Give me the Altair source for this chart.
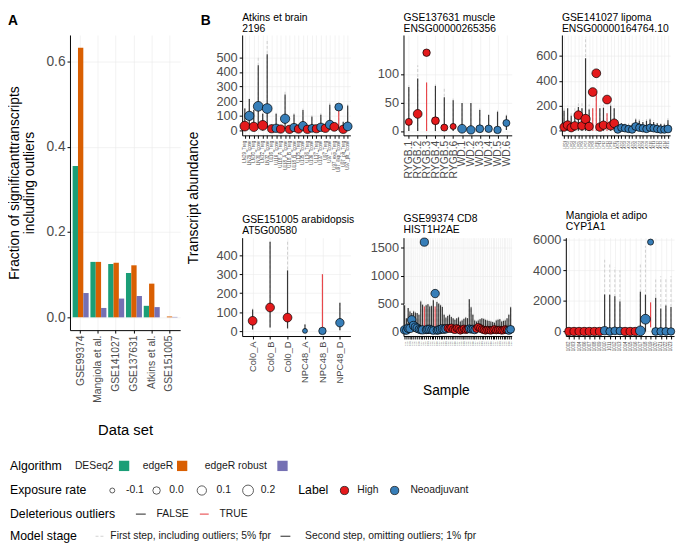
import altair as alt
import pandas as pd

FONT = "Liberation Sans"
LABEL_GRAY = "#4D4D4D"
GRID = "#EBEBEB"

# ---------------- Panel A data ----------------
datasets = ["GSE99374", "Mangiola et al.", "GSE141027", "GSE137631", "Atkins et al.", "GSE151005"]
algorithms = ["DESeq2", "edgeR", "edgeR robust"]
frac_deseq2 = [0.355, 0.130, 0.125, 0.104, 0.027, 0.000]
frac_edger = [0.632, 0.130, 0.128, 0.122, 0.079, 0.002]
frac_robust = [0.057, 0.022, 0.044, 0.050, 0.024, 0.001]
alg_colors = ["#1B9E77", "#D95F02", "#7570B3"]

# ---------------- Panel B data ----------------
# Atkins et brain / 2196
atk_names = ["LN29_Treg", "LN29_Tconv", "LN30_Treg", "LN30_Tconv", "LN32_Treg", "LN32_Tconv",
             "U116_Treg", "U116_Tconv", "U118_A_Treg", "U118_A_Tconv", "U118_B_Treg", "U118_B_Tconv",
             "U135_Treg", "U135_Tconv", "U136_Treg", "U136_Tconv", "U137_Treg", "U137_Tconv",
             "U97_Treg", "U97_Tconv", "U97_exp_Treg", "U97_exp_Tconv", "U97_plt_Treg", "U97_plt_Tconv"]
atk_label = list("HNHNHNHNHNHNHNHNHNHNHNHN")
atk_value = [30, 100, 25, 165, 35, 150, 12, 15, 10, 80, 8, 20, 10, 32, 8, 15, 12, 22, 15, 40, 25, 160, 8, 28]
atk_expo = [0.13, 0.10, 0.10, 0.13, 0.13, 0.13, 0.04, 0.04, 0.04, 0.10, 0.04, 0.04,
            0.04, 0.07, 0.04, 0.02, 0.04, 0.04, 0.04, 0.07, 0.07, 0.02, 0.04, 0.07]
atk_lo = [0, 30, 0, 40, 0, 20, 0, 0, 0, 10, 0, 0, 0, 5, 0, 0, 0, 0, 0, 5, 0, 0, 0, 5]
atk_hi2 = [150, 215, 140, 445, 115, 520, 40, 115, 30, 245, 30, 110, 30, 140, 25, 95, 25, 108, 40, 175, 45, 140, 60, 170]
atk_hi1 = [165, 230, 150, 500, 125, 620, 45, 125, 35, 265, 35, 120, 35, 150, 30, 105, 30, 118, 45, 190, 50, 140, 65, 180]
atk_del = [0, 0, 0, 0, 0, 0, 0, 0, 0, 0, 0, 0, 0, 0, 0, 0, 0, 0, 0, 0, 0, 1, 0, 0]

# GSE137631 muscle / ENSG00000265356
mus_names = ["RYGB.1", "RYGB.2", "RYGB.3", "RYGB.4", "RYGB.5", "RYGB.6", "WD.1", "WD.2", "WD.3", "WD.4", "WD.5", "WD.6"]
mus_label = list("HHHHHHNNNNNN")
mus_value = [16, 30, 137, 18, 6, 8, 4, 2, 4, 4, 2, 14]
mus_expo = [-0.02, 0.07, 0.0, 0.02, -0.02, -0.06, 0.07, 0.05, 0.02, 0.0, 0.0, -0.02]
mus_lo = [0, 0, 0, 0, 0, 0, 0, 0, 0, 0, 0, 2]
mus_hi2 = [77, 92, 85, 79, 59, 54, 49, 49, 37, 28, 34, 27]
mus_hi1 = [80, 115, 85, 82, 77, 60, 52, 52, 40, 30, 36, 29]
mus_del = [0, 0, 1, 0, 0, 0, 0, 0, 0, 0, 0, 0]

# GSE141027 lipoma / ENSG00000164764.10
lip_names = ("LP01 LP02 LP03 LP04 LP05 LP06 LP07 LP08 LP09 LP10 LP11 LP12 LP13 LP14 LP15 "
             "AT01 AT02 AT03 AT04 AT05 AT06 AT07 AT08 AT09 AT10 AT11 AT12 AT13 AT14 AT15").split()
lip_label = list("HHHHHHHHHHHHHHHNNNNNNNNNNNNNNN")
lip_value = [30, 45, 25, 40, 125, 40, 95, 35, 310, 460, 30, 45, 250, 40, 60,
             10, 25, 20, 15, 10, 35, 25, 20, 15, 25, 20, 15, 10, 10, 15]
lip_expo = [0.05, 0.07, 0.05, 0.05, 0.07, 0.05, 0.10, 0.05, 0.07, 0.07, 0.05, 0.05, 0.07, 0.05, 0.07,
            0.0, 0.0, 0.0, 0.0, 0.0, 0.02, 0.0, 0.0, 0.0, 0.0, 0.0, 0.0, 0.0, 0.0, 0.02]
lip_lo = [0, 0, 0, 0, 0, 0, 0, 0, 0, 0, 0, 0, 0, 0, 0,
          0, 0, 0, 0, 0, 0, 0, 0, 0, 0, 0, 0, 0, 0, 0]
lip_hi2 = [160, 180, 120, 140, 190, 180, 580, 170, 180, 300, 180, 185, 140, 200, 180,
           40, 60, 55, 45, 50, 90, 80, 70, 80, 90, 70, 60, 55, 50, 85]
lip_hi1 = [190, 200, 140, 180, 240, 220, 750, 210, 180, 300, 200, 210, 140, 220, 200,
           55, 75, 70, 60, 65, 105, 95, 85, 95, 105, 85, 75, 70, 65, 100]
lip_del = [0, 0, 0, 0, 0, 0, 0, 0, 1, 1, 0, 0, 1, 0, 0,
           0, 0, 0, 0, 0, 0, 0, 0, 0, 0, 0, 0, 0, 0, 0]

# GSE151005 arabidopsis / AT5G00580
ara_names = ["Col0_A", "Col0_B", "Col0_D", "NPC48_A", "NPC48_B", "NPC48_D"]
ara_label = list("HHHNNN")
ara_value = [55, 125, 72, 2, 2, 45]
ara_expo = [0.07, 0.07, 0.07, -0.1, 0.0, 0.05]
ara_lo = [10, 20, 15, 0, 0, 5]
ara_hi2 = [115, 470, 320, 35, 300, 150]
ara_hi1 = [120, 470, 470, 38, 300, 155]
ara_del = [0, 0, 0, 0, 1, 0]

# GSE99374 CD8 / HIST1H2AE
cd8_names = ("C01 C02 C03 C04 C05 C06 C07 C08 C09 C10 C11 C12 C13 C14 C15 C16 C17 C18 C19 C20 "
             "C21 C22 C23 C24 C25 C26 C27 C28 C29 C30 C31 C32 C33 C34 C35 C36 C37 C38 C39 C40 "
             "C41 C42 C43 C44 C45 C46 C47 C48 C49 C50 C51 C52 C53 C54 C55 C56 C57 C58 C59 C60").split()
cd8_label = list("NNNNNNNNNNNNNNNNNNNNNNNN" "HHHHHHHHHHHH" "NNNN" "HHHHHHHHHHHHHHHHHH" "NN")
cd8_value = [30, 20, 60, 55, 210, 110, 80, 60, 40, 30, 30, 1600, 30, 40, 40, 30, 20, 680, 20, 30, 40, 50, 40, 50,
             60, 50, 70, 40, 30, 60, 45, 20, 35, 50, 30, 40,
             50, 40, 45, 30,
             50, 80, 60, 40, 30, 20, 30, 25, 20, 30, 40, 25, 30, 30, 20, 25, 40, 30,
             20, 40]
cd8_expo = [0.04, 0.02, 0.04, 0.04, 0.05, 0.04, 0.04, 0.04, 0.02, 0.02, 0.04, 0.04, 0.02, 0.04, 0.04, 0.02,
            0.02, 0.05, 0.02, 0.04, 0.04, 0.04, 0.04, 0.04,
            0.0, 0.0, 0.0, 0.0, 0.0, 0.0, 0.0, 0.0, 0.0, 0.0, 0.0, 0.0,
            0.02, 0.02, 0.02, 0.02,
            0.0, 0.0, 0.0, 0.0, 0.0, 0.0, 0.0, 0.0, 0.0, 0.0, 0.0, 0.0, 0.0, 0.0, 0.0, 0.0, 0.0, 0.0,
            0.02, 0.02]
cd8_lo = [0, 0, 0, 0, 0, 0, 0, 0, 0, 0, 0, 0, 0, 0, 0, 0, 0, 0, 0, 0, 0, 0, 0, 0,
          0, 0, 0, 0, 0, 0, 0, 0, 0, 0, 0, 0, 0, 0, 0, 0,
          0, 0, 0, 0, 0, 0, 0, 0, 0, 0, 0, 0, 0, 0, 0, 0, 0, 0, 0, 0]
cd8_hi2 = [470, 240, 420, 360, 330, 360, 340, 330, 300, 540, 480, 450, 470, 490, 450, 455, 560, 450, 530, 500,
           470, 440, 300, 250,
           280, 300, 260, 240, 210, 240, 255, 180, 200, 230, 250, 240,
           580, 435, 300, 200,
           180, 200, 220, 240, 230, 210, 200, 190, 180, 170, 160, 200, 210, 220, 180, 190, 200, 240,
           300, 435]
cd8_hi1 = [500, 260, 440, 380, 350, 380, 360, 350, 320, 560, 500, 450, 490, 510, 470, 475, 580, 450, 550, 520,
           490, 460, 320, 270,
           300, 320, 280, 260, 230, 260, 275, 200, 220, 250, 270, 260,
           600, 455, 320, 220,
           200, 220, 240, 260, 250, 230, 220, 210, 200, 190, 180, 220, 230, 240, 200, 210, 220, 260,
           320, 455]
cd8_del = [0, 0, 0, 0, 0, 0, 0, 0, 0, 0, 0, 1, 0, 0, 0, 0, 0, 1, 0, 0, 0, 0, 0, 0,
           0, 0, 0, 0, 0, 0, 0, 0, 0, 0, 0, 0, 0, 0, 0, 0,
           0, 0, 0, 0, 0, 0, 0, 0, 0, 0, 0, 0, 0, 0, 0, 0, 0, 0, 0, 0]

# Mangiola et adipo / CYP1A1
man_names = ["1002", "1003", "1004", "1006", "1007", "1008", "1009", "1010", "1011", "1012", "1013",
             "1014", "1015", "1016", "1017", "1018", "1019", "1020", "1021", "1022", "1023"]
man_label = list("HHHHHHHNNNNHHHNNNNNNN")
man_value = [0, 0, 0, 0, 0, 0, 0, 50, 0, 40, 30, 0, 0, 0, 40, 800, 5840, 0, 0, 0, 0]
man_expo = [0.04, 0.04, 0.04, 0.04, 0.04, 0.04, 0.04, 0.04, 0.02, 0.02, 0.02, 0.04, 0.04, 0.04,
            0.13, 0.13, -0.06, 0.02, 0.02, 0.02, 0.0]
man_lo = [0, 0, 0, 0, 0, 0, 0, 0, 0, 0, 0, 0, 0, 0, 0, 0, 270, 0, 0, 0, 0]
man_hi2 = [30, 30, 30, 30, 30, 30, 30, 2420, 2400, 2300, 1950, 30, 30, 30, 2600, 2400, 1900, 2200, 1500, 1700, 1600]
man_hi1 = [40, 40, 40, 40, 40, 40, 40, 4700, 4500, 4200, 4000, 40, 40, 40, 4400, 5600, 1900, 3400, 3600, 3500, 3600]
man_del = [0, 0, 0, 0, 0, 0, 0, 0, 0, 0, 0, 0, 0, 0, 0, 0, 1, 0, 0, 0, 0]

label_names = ["High", "Neoadjuvant"]
label_colors = ["#E41A1C", "#377EB8"]
del_names = ["FALSE", "TRUE"]
del_colors = ["#363636", "#E8474B"]
expo_levels = [-0.1, 0.0, 0.1, 0.2]

alg_scale = alt.Scale(domain=algorithms, range=alg_colors)
label_scale = alt.Scale(domain=label_names, range=label_colors)
size_scale = alt.Scale(domain=[-0.1, 0.2], range=[25, 121])
del_scale = alt.Scale(domain=del_names, range=del_colors)

TITLE_KW = dict(anchor="start", frame="group", fontSize=10.5, lineHeight=11, offset=1)
LETTER_KW = dict(anchor="start", frame="bounds", fontSize=14, fontWeight="bold", offset=-15)

# ---------------- Panel A ----------------
df_a = pd.DataFrame({
    "dataset": datasets * 3,
    "algorithm": [algorithms[0]] * 6 + [algorithms[1]] * 6 + [algorithms[2]] * 6,
    "frac": frac_deseq2 + frac_edger + frac_robust,
})
bars_a = alt.Chart(df_a).mark_bar().encode(
    x=alt.X("dataset:N", sort=datasets,
            scale=alt.Scale(paddingInner=0.1, paddingOuter=0.15),
            axis=alt.Axis(title="Data set", labelAngle=-90, labelFontSize=10.5, titleFontSize=15,
                          minExtent=78, maxExtent=78, titlePadding=16, grid=True, labelPadding=2)),
    xOffset=alt.XOffset("algorithm:N", sort=algorithms),
    y=alt.Y("frac:Q", scale=alt.Scale(domain=[-0.03, 0.662], nice=False, zero=False),
            axis=alt.Axis(values=[0, 0.2, 0.4, 0.6], format=".1f", labelFontSize=14,
                          title=["Fraction of significanttranscripts", "including outliers"],
                          titleFontSize=14, titleLineHeight=15, minExtent=30, maxExtent=30,
                          titlePadding=4, grid=True)),
    color=alt.Color("algorithm:N", scale=alg_scale, legend=None),
).properties(width=112, height=300, title=alt.TitleParams([" ", " "], **TITLE_KW))
panel_a = alt.vconcat(bars_a).properties(title=alt.TitleParams("A", **LETTER_KW))


# ---------------- Panel B ----------------
def panel_df(names, labels, values, expo, lo, hi2, hi1, dele):
    return pd.DataFrame({
        "sample": names,
        "label": ["High" if l == "H" else "Neoadjuvant" for l in labels],
        "value": values, "exposure": expo, "lo": lo, "hi2": hi2, "hi1": hi1,
        "deleterious": ["TRUE" if d else "FALSE" for d in dele],
    })


def panel(df, names, ydom, yticks, title, xfs, yext, w, h):
    xenc = alt.X("sample:N", sort=names, scale=alt.Scale(type="point", padding=0.6),
                 axis=alt.Axis(title=None, labelAngle=-90, labelFontSize=xfs, labelOverlap=False,
                               grid=True, labelPadding=2))
    ysc = alt.Scale(domain=ydom, nice=False, zero=False)
    yax = alt.Axis(title=None, values=yticks, labelFontSize=13, minExtent=yext, maxExtent=yext,
                   grid=True, format="d")
    base = alt.Chart(df)
    dashed = base.mark_rule(strokeDash=[3, 2], strokeWidth=1.1, color="#D2D2D2").encode(
        x=xenc, y=alt.Y("lo:Q", scale=ysc, axis=yax), y2="hi1:Q")
    solid = base.mark_rule(strokeWidth=1.2).encode(
        x=xenc, y=alt.Y("lo:Q", scale=ysc, axis=yax), y2="hi2:Q",
        stroke=alt.Stroke("deleterious:N", scale=del_scale, legend=None))
    pts = base.mark_circle(stroke="black", strokeWidth=0.7, opacity=1, fillOpacity=1).encode(
        x=xenc, y=alt.Y("value:Q", scale=ysc, axis=yax),
        fill=alt.Fill("label:N", scale=label_scale, legend=None),
        size=alt.Size("exposure:Q", scale=size_scale, legend=None))
    return alt.layer(dashed, solid, pts).properties(
        width=w, height=h, title=alt.TitleParams(title, **TITLE_KW))


W = 110
p1 = panel(panel_df(atk_names, atk_label, atk_value, atk_expo, atk_lo, atk_hi2, atk_hi1, atk_del),
           atk_names, [-33, 652], [0, 100, 200, 300, 400, 500], ["Atkins et brain", "2196"],
           4.5, 42, W, 102)
p2 = panel(panel_df(mus_names, mus_label, mus_value, mus_expo, mus_lo, mus_hi2, mus_hi1, mus_del),
           mus_names, [-7.5, 168], [0, 50, 100], ["GSE137631 muscle", "ENSG00000265356"],
           10.5, 40, W, 102)
p3 = panel(panel_df(lip_names, lip_label, lip_value, lip_expo, lip_lo, lip_hi2, lip_hi1, lip_del),
           lip_names, [-36, 766], [0, 200, 400, 600], ["GSE141027 lipoma", "ENSG00000164764.10"],
           3.5, 40, W, 102)
p4 = panel(panel_df(ara_names, ara_label, ara_value, ara_expo, ara_lo, ara_hi2, ara_hi1, ara_del),
           ara_names, [-25, 492], [0, 100, 200, 300, 400], ["GSE151005 arabidopsis", "AT5G00580"],
           9.5, 42, W, 100)
p5 = panel(panel_df(cd8_names, cd8_label, cd8_value, cd8_expo, cd8_lo, cd8_hi2, cd8_hi1, cd8_del),
           cd8_names, [-80, 1680], [0, 500, 1000, 1500], ["GSE99374 CD8", "HIST1H2AE"],
           2.4, 40, W, 100)
p6 = panel(panel_df(man_names, man_label, man_value, man_expo, man_lo, man_hi2, man_hi1, man_del),
           man_names, [-300, 6130], [0, 2000, 4000, 6000], ["Mangiola et adipo", "CYP1A1"],
           4.5, 40, W, 100)

row1 = alt.hconcat(p1, p2, p3, spacing=10)
row2 = alt.hconcat(p4, p5, p6, spacing=10)
inner = alt.vconcat(row1, row2, spacing=33).properties(
    title=alt.TitleParams("Transcript abundance", orient="left", anchor="middle", fontSize=14, offset=0))
mid = alt.vconcat(inner).properties(
    title=alt.TitleParams("Sample", orient="bottom", anchor="middle", fontSize=14, offset=1, dx=15))
panel_b = alt.vconcat(mid).properties(title=alt.TitleParams("B", dx=14, **LETTER_KW))

# ---------------- Legend ----------------
LW, LH = 480, 97
LOFF = 62
lxs = alt.Scale(domain=[0, LW], range=[-LOFF, LW - LOFF])
lys = alt.Scale(domain=[0, LH], range=[0, LH])


def LX(f):
    return alt.X(f, scale=lxs, axis=None)


def LY(f):
    return alt.Y(f, scale=lys, axis=None)


ROWS = [19, 44, 68, 90.5]
leg_titles = pd.DataFrame({
    "lx": [1, 1, 1, 1, 294],
    "ly": [ROWS[0], ROWS[1], ROWS[2], ROWS[3], ROWS[1]],
    "txt": ["Algorithm", "Exposure rate", "Deleterious outliers", "Model stage", "Label"],
})
leg_labels = pd.DataFrame({
    "lx": [67, 136, 199, 119, 163, 211, 256, 354, 408, 150, 214, 103, 301],
    "ly": [ROWS[0]] * 3 + [ROWS[1]] * 6 + [ROWS[2]] * 2 + [ROWS[3]] * 2,
    "txt": ["DESeq2", "edgeR", "edgeR robust", "-0.1", "0.0", "0.1", "0.2", "High", "Neoadjuvant",
            "FALSE", "TRUE", "First step, including outliers; 5% fpr",
            "Second step, omitting outliers; 1% fpr"],
})
leg_alg = pd.DataFrame({"lx": [117, 176, 278], "ly": [ROWS[0]] * 3, "algorithm": algorithms})
leg_expo = pd.DataFrame({"lx": [105, 150, 196, 243], "ly": [ROWS[1]] * 4, "exposure": expo_levels})
leg_lab = pd.DataFrame({"lx": [341, 392], "ly": [ROWS[1]] * 2, "label": label_names})
leg_del = pd.DataFrame({"x1": [129, 194], "x2": [139, 203], "ly": [ROWS[2]] * 2, "deleterious": del_names})
leg_stage1 = pd.DataFrame({"x1": [88], "x2": [97], "ly": [ROWS[3]]})
leg_stage2 = pd.DataFrame({"x1": [276], "x2": [286], "ly": [ROWS[3]]})

legend = alt.layer(
    alt.Chart(leg_titles).mark_text(align="left", baseline="middle", fontSize=12.5, color="black").encode(
        x=LX("lx:Q"), y=LY("ly:Q"), text="txt:N"),
    alt.Chart(leg_labels).mark_text(align="left", baseline="middle", fontSize=10.5, color="#1A1A1A").encode(
        x=LX("lx:Q"), y=LY("ly:Q"), text="txt:N"),
    alt.Chart(leg_alg).mark_square(size=110, opacity=1).encode(
        x=LX("lx:Q"), y=LY("ly:Q"), color=alt.Color("algorithm:N", scale=alg_scale, legend=None)),
    alt.Chart(leg_expo).mark_point(shape="circle", filled=False, color="#333333", strokeWidth=0.8, opacity=1).encode(
        x=LX("lx:Q"), y=LY("ly:Q"), size=alt.Size("exposure:Q", scale=size_scale, legend=None)),
    alt.Chart(leg_lab).mark_circle(size=70, stroke="black", strokeWidth=0.7, opacity=1).encode(
        x=LX("lx:Q"), y=LY("ly:Q"), fill=alt.Fill("label:N", scale=label_scale, legend=None)),
    alt.Chart(leg_del).mark_rule(strokeWidth=1.1).encode(
        x=LX("x1:Q"), x2="x2:Q", y=LY("ly:Q"),
        stroke=alt.Stroke("deleterious:N", scale=del_scale, legend=None)),
    alt.Chart(leg_stage1).mark_rule(strokeWidth=1.1, strokeDash=[3, 2], color="#D2D2D2").encode(
        x=LX("x1:Q"), x2="x2:Q", y=LY("ly:Q")),
    alt.Chart(leg_stage2).mark_rule(strokeWidth=1.1, color="#363636").encode(
        x=LX("x1:Q"), x2="x2:Q", y=LY("ly:Q")),
).properties(width=LW, height=LH)

top = alt.hconcat(panel_a, panel_b, spacing=6)
chart = alt.vconcat(top, legend, spacing=10).properties(padding=0).configure_axis(
    domainColor="black", domainWidth=1, tickColor="black", tickWidth=1, tickSize=3,
    labelColor=LABEL_GRAY, labelFont=FONT, titleFont=FONT, titleFontWeight="normal",
    titleColor="black", gridColor=GRID, gridWidth=0.6, labelPadding=2,
).configure_title(font=FONT, fontWeight="normal", color="black").configure_text(font=FONT).configure_view(stroke=None)

chart.save("out.html", embed_options={"renderer": "svg", "actions": False})
